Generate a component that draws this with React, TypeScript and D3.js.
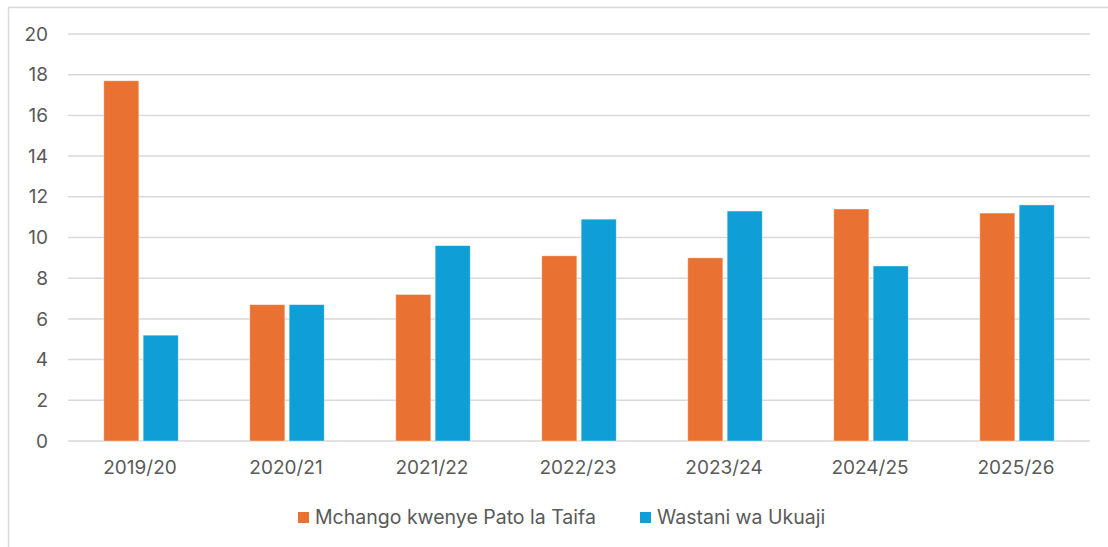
import * as React from "react";
import * as d3 from "d3";

const years = ["2019/20", "2020/21", "2021/22", "2022/23", "2023/24", "2024/25", "2025/26"];
const mchango = [17.7, 6.7, 7.2, 9.1, 9.0, 11.4, 11.2];
const wastani = [5.2, 6.7, 9.6, 10.9, 11.3, 8.6, 11.6];
const seriesNames = ["Mchango kwenye Pato la Taifa", "Wastani wa Ukuaji"];
const seriesColors = ["#E97132", "#0F9ED5"];
const yTicks = [0, 2, 4, 6, 8, 10, 12, 14, 16, 18, 20];

const W = 1108;
const H = 547;

const App: React.FunctionComponent = () => {
  const svgRef = React.useRef<SVGSVGElement>(null);

  React.useEffect(() => {
    const svgElement = svgRef.current;
    if (!svgElement) return;
    while (svgElement.firstChild) svgElement.removeChild(svgElement.firstChild);

    const svg = d3.select(svgElement);
    const font = "Inter, 'Liberation Sans', sans-serif";
    const textColor = "#595959";
    const gridColor = "#d9d9d9";

    const left = 68;
    const right = 1090;
    const top = 34;
    const bottom = 441;

    // Outer chart border (only top and left edges fall inside the picture)
    svg.append("rect")
      .attr("x", 8.5)
      .attr("y", 7.5)
      .attr("width", 1120)
      .attr("height", 560)
      .attr("fill", "white")
      .attr("stroke", gridColor)
      .attr("stroke-width", 1.5);

    const x = d3.scaleBand<string>()
      .domain(years)
      .range([left, right])
      .paddingInner(0.49)
      .paddingOuter(0.245);

    const inner = d3.scaleBand<number>()
      .domain([0, 1])
      .range([0, x.bandwidth()])
      .paddingInner(0.11);

    const y = d3.scaleLinear().domain([0, 20]).range([bottom, top]);

    // Gridlines
    svg.append("g")
      .selectAll("line")
      .data(yTicks)
      .enter()
      .append("line")
      .attr("x1", left)
      .attr("x2", right)
      .attr("y1", d => y(d))
      .attr("y2", d => y(d))
      .attr("stroke", gridColor)
      .attr("stroke-width", 1.5);

    // Y tick labels
    svg.append("g")
      .selectAll("text")
      .data(yTicks)
      .enter()
      .append("text")
      .attr("x", 48)
      .attr("y", d => y(d))
      .attr("dy", "0.35em")
      .attr("text-anchor", "end")
      .attr("font-family", font)
      .attr("font-size", 19)
      .attr("fill", textColor)
      .text(d => d);

    // Bars
    const series = [mchango, wastani];
    series.forEach((vals, si) => {
      svg.append("g")
        .selectAll("rect")
        .data(vals)
        .enter()
        .append("rect")
        .attr("x", (_d, i) => (x(years[i]) ?? 0) + (inner(si) ?? 0))
        .attr("y", d => y(d))
        .attr("width", inner.bandwidth())
        .attr("height", d => y(0) - y(d))
        .attr("fill", seriesColors[si])
        .attr("stroke", "#ffffff")
        .attr("stroke-opacity", 0.5)
        .attr("stroke-width", 0.75);
    });

    // X labels
    svg.append("g")
      .selectAll("text")
      .data(years)
      .enter()
      .append("text")
      .attr("x", d => (x(d) ?? 0) + x.bandwidth() / 2 - 1)
      .attr("y", 467)
      .attr("dy", "0.35em")
      .attr("text-anchor", "middle")
      .attr("font-family", font)
      .attr("font-size", 19)
      .attr("fill", textColor)
      .text(d => d);

    // Legend
    const legendX = [298, 640];
    seriesNames.forEach((name, i) => {
      const g = svg.append("g").attr("transform", `translate(${legendX[i]}, 517)`);
      g.append("rect")
        .attr("x", 0)
        .attr("y", -5)
        .attr("width", 11)
        .attr("height", 11)
        .attr("fill", seriesColors[i]);
      g.append("text")
        .attr("x", 17)
        .attr("y", 0)
        .attr("dy", "0.35em")
        .attr("font-family", font)
        .attr("font-size", 19.5)
        .attr("fill", textColor)
        .text(name);
    });
  }, []);

  return (
    <svg
      ref={svgRef}
      width={W}
      height={H}
      style={{ position: "absolute", left: 0, top: 0, background: "white" }}
    />
  );
};

export default App;
